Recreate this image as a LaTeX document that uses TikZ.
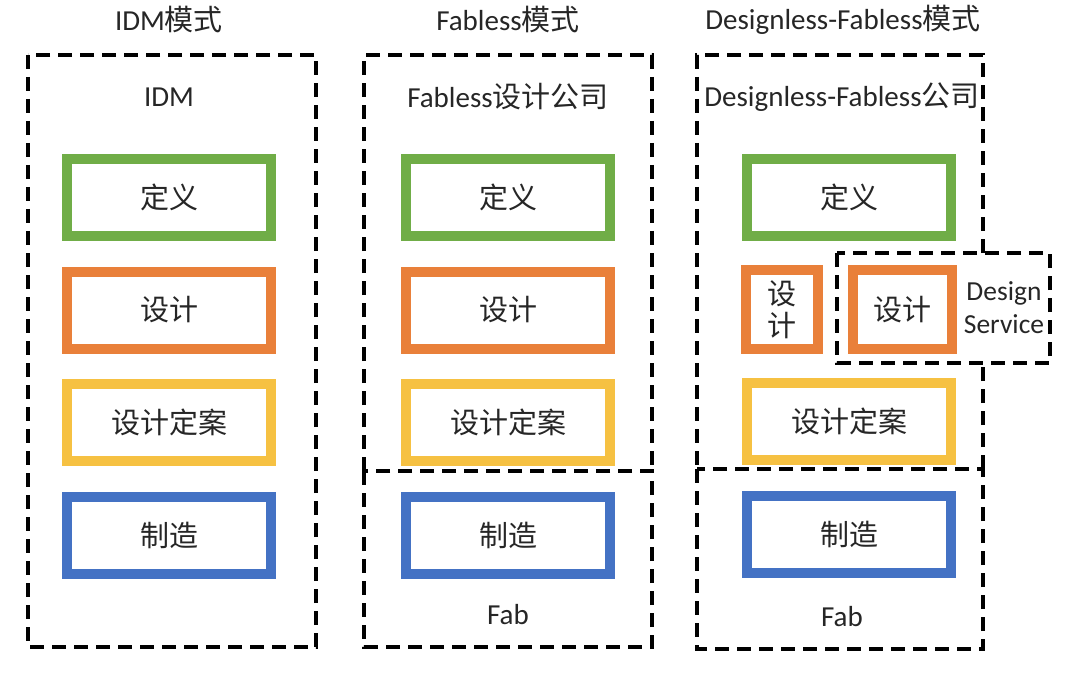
\documentclass[tikz,border=0pt]{standalone}
\usepackage{fontspec}
\setmainfont{Carlito}
\newfontfamily\zh{Noto Sans CJK SC}
\usetikzlibrary{positioning}
\definecolor{defgreen}{HTML}{70AD47}
\definecolor{desorange}{HTML}{E9803A}
\definecolor{planyellow}{HTML}{F6C142}
\definecolor{fabblue}{HTML}{4472C4}
\definecolor{txtgray}{HTML}{262626}

\tikzset{
  stage/.style={draw, line width=10pt, fill=white, minimum width=204pt, minimum height=77pt,
    inner sep=0pt, text=txtgray, font=\fontsize{29}{33}\selectfont\zh},
  zone/.style={draw, line width=3.5pt, dash pattern=on 14pt off 8pt},
  lbl/.style={text=txtgray, inner sep=0pt, font=\fontsize{29}{33}\selectfont},
}

\begin{document}
\begin{tikzpicture}[x=1pt, y=-1pt, node distance=25.5pt]
		\useasboundingbox (0,0) rectangle (1080,674);

		% titles
		\node[lbl] (idmtitle) at (169,20) {IDM{\zh 模式}};
		\node[lbl] (fltitle) at (508,20) {Fabless{\zh 模式}};
		\node[lbl] (dltitle) at (843,20) {Designless-Fabless{\zh 模式}};

		% IDM
		\draw[zone] (28,55) rectangle (316,647);
		\node[lbl] (idmname) at (169,97) {IDM};
		\node[stage, draw=defgreen] (idmdef) at (169,197.5) {定义};
		\node[stage, draw=desorange, below=of idmdef] (idmdes) {设计};
		\node[stage, draw=planyellow, below=of idmdes] (idmplan) {设计定案};
		\node[stage, draw=fabblue, below=of idmplan] (idmfab) {制造};

		% Fabless
		\draw[zone] (364,471) -- (364,55) -- (652,55) -- (652,471);
		\draw[zone] (364,471) rectangle (652,647);
		\node[lbl] (flname) at (508,97) {Fabless{\zh 设计公司}};
		\node[stage, draw=defgreen] (fldef) at (508,197.5) {定义};
		\node[stage, draw=desorange, below=of fldef] (fldes) {设计};
		\node[stage, draw=planyellow, below=of fldes] (flplan) {设计定案};
		\node[stage, draw=fabblue, below=of flplan] (flfab) {制造};
		\node[lbl] (flfabname) at (508,615) {Fab};

		% Designless-Fabless
		\draw[zone] (983,253) -- (983,55) -- (697,55) -- (697,469);
		\draw[zone] (983,469) -- (983,363);
		\draw[zone] (697,469) rectangle (983,649);
		\draw[zone] (837,253) rectangle (1050,363);
		\node[lbl] (dlname) at (842,97) {Designless-Fabless{\zh 公司}};
		\node[stage, draw=defgreen] (dldef) at (849,197.5) {定义};
		\node[stage, draw=desorange, minimum width=72pt, minimum height=79pt, align=center,
		      font=\fontsize{29}{32}\selectfont\zh] (dldes) at (782,309.5) {设\\计};
		\node[stage, draw=desorange, minimum width=99pt, minimum height=79pt] (dsdes) at (902.5,309.5) {设计};
		\node[lbl, align=center, font=\fontsize{27.5}{33}\selectfont] (dsname) at (1004,308) {Design\\Service};
		\node[stage, draw=planyellow] (dlplan) at (849,421.5) {设计定案};
		\node[stage, draw=fabblue, below=of dlplan] (dlfab) {制造};
		\node[lbl] (dlfabname) at (842,617) {Fab};
	\end{tikzpicture}
\end{document}
